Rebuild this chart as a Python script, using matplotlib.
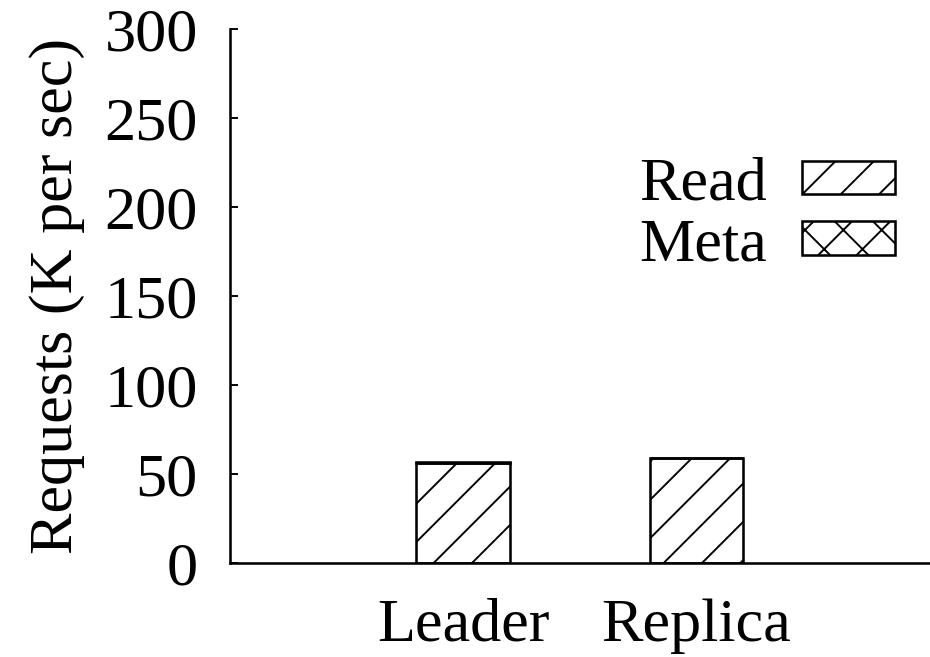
import numpy as np
import matplotlib.pyplot as plt

plt.rcParams['font.family'] = 'Liberation Serif'
plt.rcParams['hatch.linewidth'] = 0.6

# throughput per node, K requests per second
nodes = ['Leader', 'Replica']
read_reqs = [56.0, 59.2]
meta_reqs = [1.0, 0.0]

fs = 19.5

fig = plt.figure(figsize=(930 / 230, 657 / 230), dpi=230)
ax = fig.add_axes([0.247, 0.143, 0.753, 0.813])

x = np.arange(1, len(nodes) + 1)
w = 0.4
ax.bar(x, read_reqs, w, color='white', edgecolor='black', linewidth=0.8,
       hatch='//', label='Read')
ax.bar(x, meta_reqs, w, bottom=read_reqs, color='white', edgecolor='black',
       linewidth=0.8, hatch='xx', label='Meta')

ax.set_xlim(0, 3)
ax.set_ylim(0, 300)
ax.set_yticks(range(0, 301, 50))
ax.set_xticks(x)
ax.set_xticklabels(nodes)
ax.tick_params(axis='y', direction='in', length=2.5, width=0.6, labelsize=fs, pad=10)
ax.tick_params(axis='x', length=0, labelsize=fs, pad=11)
ax.set_ylabel('Requests (K per sec)', fontsize=fs, labelpad=6)

for s in ['top', 'right']:
    ax.spines[s].set_visible(False)
for s in ['left', 'bottom']:
    ax.spines[s].set_linewidth(0.8)

ax.legend(loc='upper right', bbox_to_anchor=(0.95, 0.76), frameon=False,
          fontsize=fs, markerfirst=False, handlelength=1.5, handleheight=0.45,
          handletextpad=0.56, labelspacing=0.08, borderpad=0, borderaxespad=0)

fig.savefig('out.png', dpi=230)
